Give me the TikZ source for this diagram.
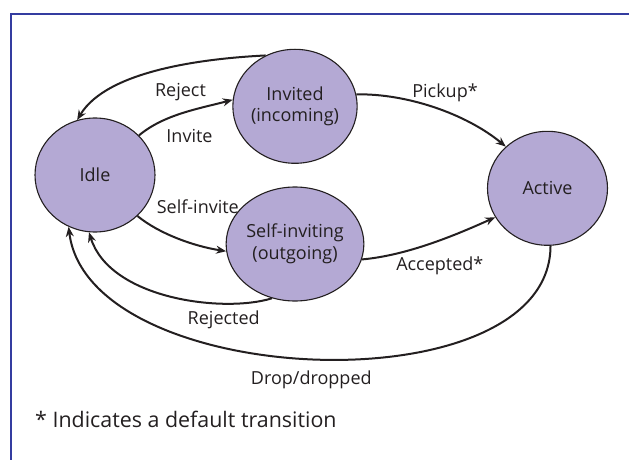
\documentclass[tikz,border=0pt]{standalone}
\usepackage{fontspec}
\setmainfont{Open Sans}
\usetikzlibrary{shapes.geometric,arrows.meta}
\definecolor{framebl}{RGB}{52,60,160}
\definecolor{statefill}{RGB}{180,169,212}
\definecolor{ink}{RGB}{35,31,32}
\begin{document}
\begin{tikzpicture}[x=1pt,y=-1pt,
  state/.style={ellipse,draw=ink,line width=1.1pt,fill=statefill,text=ink,
    minimum width=120pt,minimum height=114pt,inner sep=0pt,align=center,
    font=\fontsize{18}{21.7}\selectfont},
  trans/.style={draw=ink,line width=2pt,-{Stealth[length=10pt,width=8pt]}},
  lbl/.style={anchor=base,inner sep=0pt,text=ink,font=\fontsize{18}{21.7}\selectfont}]
\useasboundingbox (0,0) rectangle (629,460);

% frame (top and left edges)
\draw[framebl,line width=2.6pt] (629,14) -- (11,14) -- (11,460);

% states
\node[state] (idle) at (95,175) {Idle};
\node[state] (inv)  at (295,106.3) {Invited\\(incoming)};
\node[state] (sinv) at (295,244) {Self-inviting\\(outgoing)};
\node[state] (act)  at (547.5,188.3) {Active};

% transitions
\draw[trans] (inv.120) .. controls +(-60,3) and +(30,-50) .. (idle.108);
\draw[trans] (idle.42) .. controls +(25,-21) and +(-34,9) .. (inv.174);
\draw[trans] (idle.-44) .. controls +(22,18) and +(-32,-5) .. (sinv.186);
\draw[trans] (sinv.-113) .. controls +(-48,15) and +(21,67) .. (idle.-96);
\draw[trans] (inv.11) .. controls +(50,-1) and +(-40,-33) .. (act.135);
\draw[trans] (sinv.-13) .. controls +(45,-4) and +(-40,18) .. (act.-151);
\draw[trans] (act.-87) .. controls +(0,163) and +(20,164) .. (idle.-117);

% transition labels
\node[lbl] (lreject) at (180.5,96.7) {Reject};
\node[lbl] (linvite) at (189.5,142.7) {Invite};
\node[lbl] (lself)   at (197.8,213.3) {Self-invite};
\node[lbl] (lrejd)   at (223.7,324) {Rejected};
\node[lbl] (lpick)   at (445,97.3) {Pickup*};
\node[lbl] (lacc)    at (439.8,270.7) {Accepted*};
\node[lbl] (ldrop)   at (311.3,384.3) {Drop/dropped};

% footnote
\node[anchor=base west,inner sep=0pt,text=ink,font=\fontsize{21.4}{25}\selectfont] (note)
  at (35,427.3) {* Indicates a default transition};
\end{tikzpicture}
\end{document}
